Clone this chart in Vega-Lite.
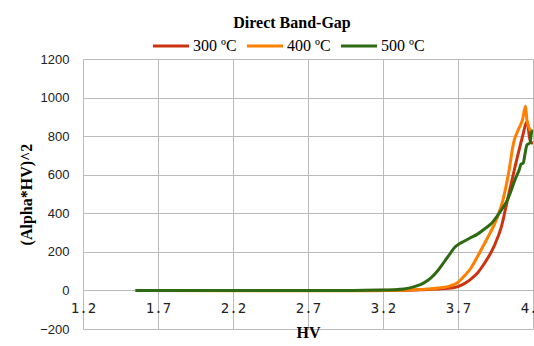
{
  "$schema": "https://vega.github.io/schema/vega-lite/v6.json",
  "autosize": {"type": "none"},
  "width": 450,
  "height": 270,
  "padding": {"left": 83, "top": 59, "right": 1, "bottom": 17},
  "background": "white",
  "title": {
    "text": "Direct Band-Gap",
    "font": "Liberation Serif",
    "fontSize": 16,
    "fontWeight": "bold",
    "color": "black",
    "anchor": "middle",
    "dx": -16,
    "offset": -5
  },
  "data": {
    "values": [
      {"T": "300 ºC", "hv": 1.55, "y": 0},
      {"T": "300 ºC", "hv": 3.0, "y": 0},
      {"T": "300 ºC", "hv": 3.3, "y": 1},
      {"T": "300 ºC", "hv": 3.45, "y": 4},
      {"T": "300 ºC", "hv": 3.55, "y": 8},
      {"T": "300 ºC", "hv": 3.67, "y": 14},
      {"T": "300 ºC", "hv": 3.73, "y": 30},
      {"T": "300 ºC", "hv": 3.78, "y": 55},
      {"T": "300 ºC", "hv": 3.83, "y": 90},
      {"T": "300 ºC", "hv": 3.87, "y": 133},
      {"T": "300 ºC", "hv": 3.94, "y": 228},
      {"T": "300 ºC", "hv": 3.99, "y": 332},
      {"T": "300 ºC", "hv": 4.03, "y": 470},
      {"T": "300 ºC", "hv": 4.08, "y": 640},
      {"T": "300 ºC", "hv": 4.13, "y": 798},
      {"T": "300 ºC", "hv": 4.16, "y": 876},
      {"T": "300 ºC", "hv": 4.18, "y": 780},
      {"T": "300 ºC", "hv": 4.2, "y": 760},
      {"T": "400 ºC", "hv": 1.55, "y": 0},
      {"T": "400 ºC", "hv": 3.0, "y": -2},
      {"T": "400 ºC", "hv": 3.3, "y": 1},
      {"T": "400 ºC", "hv": 3.5, "y": 8},
      {"T": "400 ºC", "hv": 3.6, "y": 15},
      {"T": "400 ºC", "hv": 3.65, "y": 24},
      {"T": "400 ºC", "hv": 3.7, "y": 42},
      {"T": "400 ºC", "hv": 3.74, "y": 73},
      {"T": "400 ºC", "hv": 3.79, "y": 120},
      {"T": "400 ºC", "hv": 3.83, "y": 176},
      {"T": "400 ºC", "hv": 3.89, "y": 263},
      {"T": "400 ºC", "hv": 3.96, "y": 375},
      {"T": "400 ºC", "hv": 4.0, "y": 470},
      {"T": "400 ºC", "hv": 4.04, "y": 620},
      {"T": "400 ºC", "hv": 4.07, "y": 764},
      {"T": "400 ºC", "hv": 4.1, "y": 830},
      {"T": "400 ºC", "hv": 4.13, "y": 885},
      {"T": "400 ºC", "hv": 4.15, "y": 955},
      {"T": "400 ºC", "hv": 4.16, "y": 880},
      {"T": "400 ºC", "hv": 4.18, "y": 833},
      {"T": "400 ºC", "hv": 4.2, "y": 820},
      {"T": "500 ºC", "hv": 1.55, "y": 0},
      {"T": "500 ºC", "hv": 3.0, "y": 0},
      {"T": "500 ºC", "hv": 3.2, "y": 2},
      {"T": "500 ºC", "hv": 3.34, "y": 8},
      {"T": "500 ºC", "hv": 3.42, "y": 22},
      {"T": "500 ºC", "hv": 3.47, "y": 38},
      {"T": "500 ºC", "hv": 3.52, "y": 65},
      {"T": "500 ºC", "hv": 3.57, "y": 107},
      {"T": "500 ºC", "hv": 3.61, "y": 150},
      {"T": "500 ºC", "hv": 3.65, "y": 194},
      {"T": "500 ºC", "hv": 3.68, "y": 225},
      {"T": "500 ºC", "hv": 3.7, "y": 237},
      {"T": "500 ºC", "hv": 3.74, "y": 255},
      {"T": "500 ºC", "hv": 3.78, "y": 272},
      {"T": "500 ºC", "hv": 3.83, "y": 292},
      {"T": "500 ºC", "hv": 3.87, "y": 315},
      {"T": "500 ºC", "hv": 3.92, "y": 345},
      {"T": "500 ºC", "hv": 3.96, "y": 384},
      {"T": "500 ºC", "hv": 4.0, "y": 430},
      {"T": "500 ºC", "hv": 4.03, "y": 470},
      {"T": "500 ºC", "hv": 4.06, "y": 530},
      {"T": "500 ºC", "hv": 4.08, "y": 574},
      {"T": "500 ºC", "hv": 4.11, "y": 630},
      {"T": "500 ºC", "hv": 4.12, "y": 655},
      {"T": "500 ºC", "hv": 4.135, "y": 660},
      {"T": "500 ºC", "hv": 4.145, "y": 700},
      {"T": "500 ºC", "hv": 4.16, "y": 755},
      {"T": "500 ºC", "hv": 4.18, "y": 765},
      {"T": "500 ºC", "hv": 4.19, "y": 818},
      {"T": "500 ºC", "hv": 4.2, "y": 830}
    ]
  },
  "mark": {"type": "line", "interpolate": "monotone", "strokeWidth": 3, "clip": true},
  "encoding": {
    "x": {
      "field": "hv",
      "type": "quantitative",
      "scale": {"domain": [1.2, 4.2], "nice": false, "zero": false},
      "axis": {
        "title": "HV",
        "values": [1.2, 1.7, 2.2, 2.7, 3.2, 3.7, 4.2],
        "format": ".1f",
        "offset": -38.6,
        "domain": false,
        "ticks": false,
        "labelPadding": 11,
        "labelFont": "DejaVu Sans Mono",
        "labelFontSize": 14,
        "labelColor": "#222222",
        "labelFlush": false,
        "labelOverlap": false,
        "titleFont": "Liberation Serif",
        "titleFontSize": 16,
        "titleFontWeight": "bold",
        "titleColor": "black",
        "titlePadding": 9,
        "gridColor": "#BBBBBB",
        "gridWidth": 1
      }
    },
    "y": {
      "field": "y",
      "type": "quantitative",
      "scale": {"domain": [-200, 1200], "nice": false},
      "axis": {
        "title": "(Alpha*HV)^2",
        "values": [-200, 0, 200, 400, 600, 800, 1000, 1200],
        "format": "d",
        "domain": false,
        "ticks": false,
        "labelPadding": 14,
        "labelFont": "Liberation Sans",
        "labelFontSize": 13,
        "labelColor": "#222222",
        "titleFont": "Liberation Serif",
        "titleFontSize": 16,
        "titleFontWeight": "bold",
        "titleColor": "black",
        "titlePadding": 5,
        "gridColor": "#BBBBBB",
        "gridWidth": 1
      }
    },
    "color": {
      "field": "T",
      "type": "nominal",
      "scale": {"domain": ["300 ºC", "400 ºC", "500 ºC"], "range": ["#CC3311", "#FF8000", "#2D6A12"]},
      "legend": {
        "title": null,
        "orient": "none",
        "direction": "horizontal",
        "legendX": 68,
        "legendY": -33,
        "symbolType": "stroke",
        "symbolSize": 1300,
        "symbolStrokeWidth": 3,
        "labelFont": "Liberation Serif",
        "labelFontSize": 16,
        "labelColor": "black",
        "labelOffset": 2,
        "columnPadding": 3
      }
    },
    "order": {"field": "T"}
  },
  "config": {"view": {"stroke": null}}
}
